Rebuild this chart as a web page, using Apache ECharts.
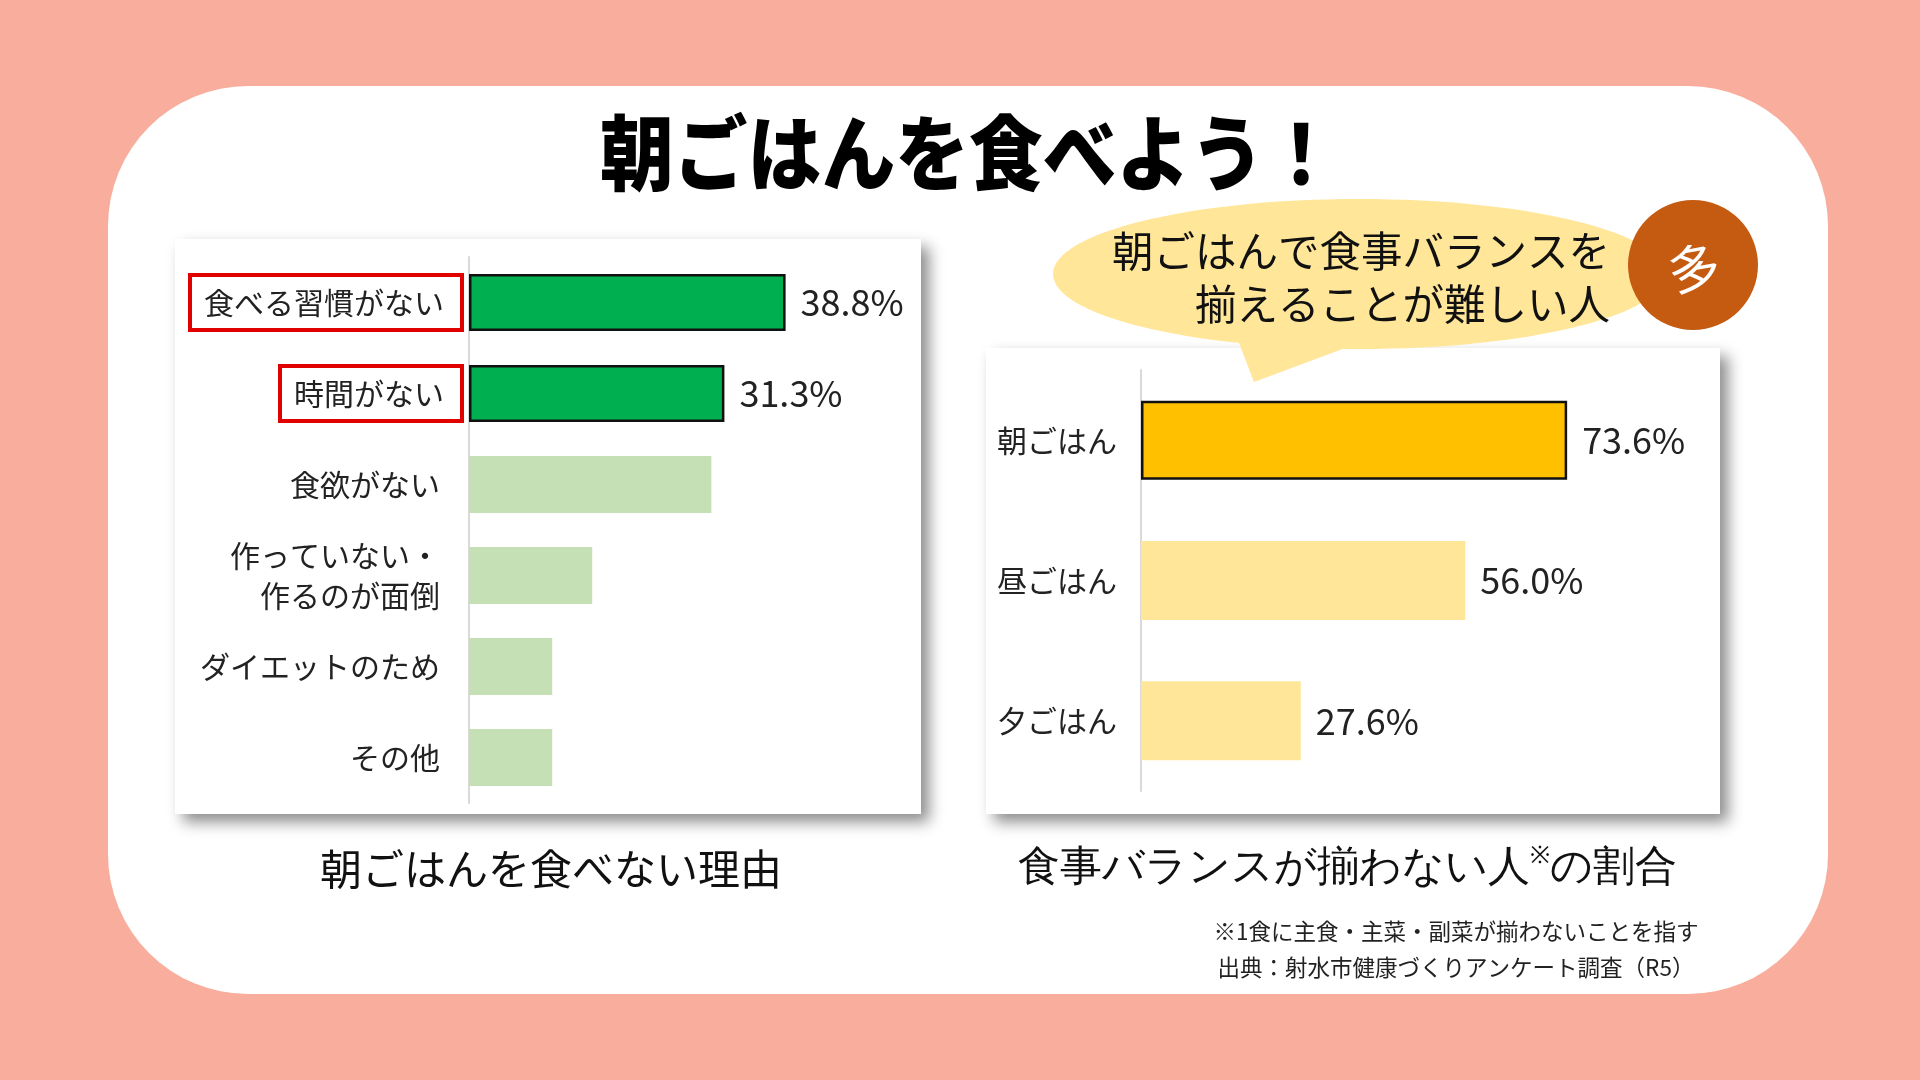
<!DOCTYPE html>
<html>
<head>
<meta charset="utf-8">
<script src="https://cdn.jsdelivr.net/npm/echarts@6/dist/echarts.min.js"></script>
<style>
  body { margin: 0; background: #F9AD9C; }
  #chart { width: 1920px; height: 1080px; }
</style>
</head>
<body>
<div id="chart"></div>
<script>
// 朝ごはんを食べない理由
var reasonNames = ['食べる習慣がない', '時間がない', '食欲がない', '作っていない・\n作るのが面倒', 'ダイエットのため', 'その他'];
var reasonValues = [38.8, 31.3, 29.7, 15.1, 10.2, 10.2];
// 食事バランスが揃わない人の割合
var mealNames = ['朝ごはん', '昼ごはん', '夕ごはん'];
var mealValues = [73.6, 56.0, 27.6];

var FONT = '"Noto Sans CJK JP", "Noto Sans", sans-serif';
var chart = echarts.init(document.getElementById('chart'));

// 上位2項目は強調（枠付き）
var reasonData = reasonValues.map(function (v, i) {
    var hi = i < 2;
    return {
        value: v,
        itemStyle: hi ? { color: '#00B050', borderColor: '#111', borderWidth: 2.5 } : { color: '#C5E0B4' },
        label: { show: hi }
    };
});
var mealData = mealValues.map(function (v, i) {
    return {
        value: v,
        itemStyle: i === 0 ? { color: '#FFC000', borderColor: '#111', borderWidth: 2.5 } : { color: '#FFE699' }
    };
});

function cardRect(x, y, w, h) {
    return {
        type: 'rect', z: -5,
        shape: { x: x, y: y, width: w, height: h },
        style: { fill: '#fff', shadowBlur: 14, shadowOffsetX: 8, shadowOffsetY: 8, shadowColor: 'rgba(0,0,0,0.45)' }
    };
}

chart.setOption({
    backgroundColor: '#F9AD9C',
    textStyle: { fontFamily: FONT },
    graphic: { elements: [
        // 白いパネル
        { type: 'rect', z: -10, shape: { x: 108, y: 86, width: 1720, height: 908, r: 140 }, style: { fill: '#fff' } },
        cardRect(175, 239, 746, 575),
        cardRect(986, 348, 734, 466),
        // 吹き出し
        { type: 'ellipse', z: -4, shape: { cx: 1359, cy: 274, rx: 306, ry: 75 }, style: { fill: '#FFE699' } },
        { type: 'polygon', z: -4, shape: { points: [[1236, 335], [1254, 382], [1380, 335]] }, style: { fill: '#FFE699' } },
        { type: 'text', z: -3, x: 1610, y: 278,
          style: { text: '朝ごはんで食事バランスを\n揃えることが難しい人', align: 'right', verticalAlign: 'middle',
                   fontSize: 41.5, lineHeight: 53, fontFamily: FONT, fill: '#111' } },
        { type: 'circle', z: -3, shape: { cx: 1693, cy: 265, r: 65 }, style: { fill: '#C55A11' } },
        { type: 'text', z: -2, x: 1694, y: 268, rotation: 0.17,
          style: { text: '多', align: 'center', verticalAlign: 'middle', fontSize: 52, fontFamily: FONT, fill: '#fff' } },
        // タイトル
        { type: 'text', x: 969, y: 153, scaleX: 0.9,
          style: { text: '朝ごはんを食べよう！', align: 'center', verticalAlign: 'middle',
                   fontSize: 82, fontWeight: 900, fontFamily: FONT, fill: '#000' } },
        // 各グラフの見出し
        { type: 'text', x: 551, y: 869,
          style: { text: '朝ごはんを食べない理由', align: 'center', verticalAlign: 'middle',
                   fontSize: 42, fontFamily: FONT, fill: '#111' } },
        { type: 'text', x: 1347, y: 869,
          style: { text: '{a|食事バランスが揃わない人}{s|※}{a|の割合}', align: 'center', verticalAlign: 'middle',
                   fontFamily: FONT, fill: '#111',
                   rich: { a: { fontSize: 41.5, lineHeight: 50 }, s: { fontSize: 24, lineHeight: 50, verticalAlign: 'top' } } } },
        // 注釈
        { type: 'text', x: 1456, y: 949,
          style: { text: '※1食に主食・主菜・副菜が揃わないことを指す\n出典：射水市健康づくりアンケート調査（R5）',
                   align: 'center', verticalAlign: 'middle', fontSize: 22.5, lineHeight: 36, fontFamily: FONT, fill: '#222' } }
    ] },
    grid: [
        { left: 469, top: 257, width: 408, height: 546 },
        { left: 1141, top: 370, width: 579, height: 421 }
    ],
    xAxis: [
        { gridIndex: 0, type: 'value', min: 0, max: 50, show: false },
        { gridIndex: 1, type: 'value', min: 0, max: 100, show: false }
    ],
    yAxis: [
        {
            gridIndex: 0, type: 'category', inverse: true, data: reasonNames,
            axisLine: { lineStyle: { color: '#D9D9D9', width: 2 } },
            axisTick: { show: false },
            axisLabel: {
                margin: 7,
                formatter: function (val, idx) {
                    var key = idx < 2 ? 'box' : 'plain';
                    return val.split('\n').map(function (s) { return '{' + key + '|' + s + '}'; }).join('\n');
                },
                rich: {
                    box: { fontSize: 30, lineHeight: 36, color: '#222', borderColor: '#E00000', borderWidth: 4,
                           padding: [13, 18, 12, 14], fontFamily: FONT },
                    plain: { fontSize: 30, lineHeight: 40, color: '#222', padding: [0, 22, 0, 0], fontFamily: FONT }
                }
            }
        },
        {
            gridIndex: 1, type: 'category', inverse: true, data: mealNames,
            axisLine: { lineStyle: { color: '#D9D9D9', width: 2 } },
            axisTick: { show: false },
            axisLabel: { margin: 24, fontSize: 30, color: '#222', fontFamily: FONT }
        }
    ],
    series: [
        {
            type: 'bar', xAxisIndex: 0, yAxisIndex: 0, data: reasonData, barWidth: 57,
            label: { position: 'right', distance: 15, fontSize: 36, color: '#222', fontFamily: FONT,
                     formatter: function (p) { return p.value.toFixed(1) + '%'; } }
        },
        {
            type: 'bar', xAxisIndex: 1, yAxisIndex: 1, data: mealData, barWidth: 79,
            label: { show: true, position: 'right', distance: 15, fontSize: 36, color: '#222', fontFamily: FONT,
                     formatter: function (p) { return p.value.toFixed(1) + '%'; } }
        }
    ]
});
</script>
</body>
</html>
